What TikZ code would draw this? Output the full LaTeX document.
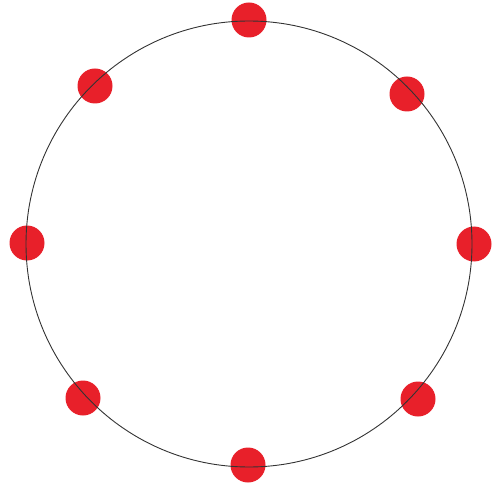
\documentclass[tikz,border=0pt]{standalone}
\usepackage{tikz}
\usetikzlibrary{positioning}
\definecolor{dotred}{HTML}{E8202A}
\definecolor{ringgray}{HTML}{333333}
\tikzset{
  % Ring outline
  ring/.style={
    circle, draw=ringgray, line width=0.9pt, inner sep=0pt,
    minimum size=#1,
  },
  ring/.default={446pt},
  % Red markers on the ring
  marker/.style={
    circle, fill=dotred, draw=none, inner sep=0pt, minimum size=35pt,
  },
}
\begin{document}
\begin{tikzpicture}[x=1pt, y=-1pt]
  \useasboundingbox (0,0) rectangle (492,486);
  % Markers
  \node[marker] (top)      at (249,20)  {};
  \node[marker] (topleft)  at (95,86)   {};
  \node[marker] (topright) at (407,94)  {};
  \node[marker] (left)     at (27,243)  {};
  \node[marker] (right)    at (474,244) {};
  \node[marker] (botleft)  at (83,398)  {};
  \node[marker] (botright) at (418,399) {};
  \node[marker] (bottom)   at (248,465) {};
  % Ring, drawn over the markers
  \node[ring] (ring) at (249,244) {};
\end{tikzpicture}
\end{document}
